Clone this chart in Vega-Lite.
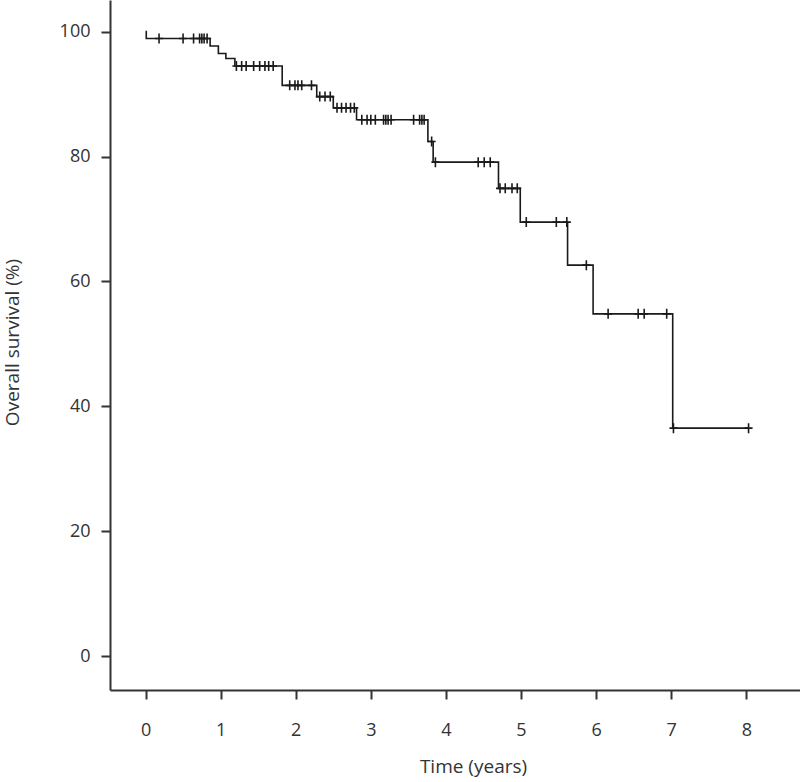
{
  "$schema": "https://vega.github.io/schema/vega-lite/v6.json",
  "width": 690,
  "height": 690,
  "autosize": "none",
  "padding": {"left": 110, "top": 0, "right": 0, "bottom": 92},
  "background": "white",
  "config": {"view": {"stroke": null}, "font": "Open Sans"},
  "datasets": {
    "steps": [
      {"time": 0, "survival": 100},
      {"time": 0.01, "survival": 98.9},
      {"time": 0.86, "survival": 97.7},
      {"time": 0.97, "survival": 96.5},
      {"time": 1.07, "survival": 95.7},
      {"time": 1.19, "survival": 94.5},
      {"time": 1.82, "survival": 91.4},
      {"time": 2.28, "survival": 89.6},
      {"time": 2.5, "survival": 87.8},
      {"time": 2.81, "survival": 85.9},
      {"time": 3.76, "survival": 82.4},
      {"time": 3.83, "survival": 79.1},
      {"time": 4.7, "survival": 74.9},
      {"time": 4.99, "survival": 69.5},
      {"time": 5.62, "survival": 62.6},
      {"time": 5.96, "survival": 54.8},
      {"time": 7.02, "survival": 36.5},
      {"time": 8.03, "survival": 36.5}
    ],
    "censored": [
      {"time": 0.18, "survival": 98.9},
      {"time": 0.5, "survival": 98.9},
      {"time": 0.64, "survival": 98.9},
      {"time": 0.72, "survival": 98.9},
      {"time": 0.75, "survival": 98.9},
      {"time": 0.78, "survival": 98.9},
      {"time": 0.82, "survival": 98.9},
      {"time": 1.21, "survival": 94.5},
      {"time": 1.28, "survival": 94.5},
      {"time": 1.34, "survival": 94.5},
      {"time": 1.44, "survival": 94.5},
      {"time": 1.52, "survival": 94.5},
      {"time": 1.59, "survival": 94.5},
      {"time": 1.64, "survival": 94.5},
      {"time": 1.7, "survival": 94.5},
      {"time": 1.92, "survival": 91.4},
      {"time": 1.99, "survival": 91.4},
      {"time": 2.03, "survival": 91.4},
      {"time": 2.08, "survival": 91.4},
      {"time": 2.21, "survival": 91.4},
      {"time": 2.32, "survival": 89.6},
      {"time": 2.39, "survival": 89.6},
      {"time": 2.46, "survival": 89.6},
      {"time": 2.55, "survival": 87.8},
      {"time": 2.61, "survival": 87.8},
      {"time": 2.67, "survival": 87.8},
      {"time": 2.73, "survival": 87.8},
      {"time": 2.78, "survival": 87.8},
      {"time": 2.88, "survival": 85.9},
      {"time": 2.95, "survival": 85.9},
      {"time": 3.0, "survival": 85.9},
      {"time": 3.06, "survival": 85.9},
      {"time": 3.17, "survival": 85.9},
      {"time": 3.2, "survival": 85.9},
      {"time": 3.23, "survival": 85.9},
      {"time": 3.27, "survival": 85.9},
      {"time": 3.57, "survival": 85.9},
      {"time": 3.65, "survival": 85.9},
      {"time": 3.68, "survival": 85.9},
      {"time": 3.71, "survival": 85.9},
      {"time": 3.81, "survival": 82.4},
      {"time": 3.86, "survival": 79.1},
      {"time": 4.43, "survival": 79.1},
      {"time": 4.51, "survival": 79.1},
      {"time": 4.59, "survival": 79.1},
      {"time": 4.72, "survival": 74.9},
      {"time": 4.79, "survival": 74.9},
      {"time": 4.88, "survival": 74.9},
      {"time": 4.95, "survival": 74.9},
      {"time": 5.07, "survival": 69.5},
      {"time": 5.47, "survival": 69.5},
      {"time": 5.61, "survival": 69.5},
      {"time": 5.87, "survival": 62.6},
      {"time": 6.16, "survival": 54.8},
      {"time": 6.56, "survival": 54.8},
      {"time": 6.64, "survival": 54.8},
      {"time": 6.94, "survival": 54.8},
      {"time": 7.03, "survival": 36.5},
      {"time": 8.03, "survival": 36.5}
    ]
  },
  "encoding": {
    "x": {
      "field": "time",
      "type": "quantitative",
      "scale": {"domain": [-0.473, 8.715], "nice": false, "zero": false},
      "axis": {
        "values": [0, 1, 2, 3, 4, 5, 6, 7, 8],
        "title": "Time (years)",
        "grid": false,
        "domainColor": "#333333",
        "domainWidth": 2,
        "tickColor": "#333333",
        "tickWidth": 2,
        "tickSize": 9,
        "labelFont": "Open Sans",
        "labelFontSize": 18,
        "labelColor": "#333333",
        "labelPadding": 22,
        "titleFont": "Open Sans",
        "titleFontSize": 19,
        "titleFontWeight": "normal",
        "titleColor": "#333333",
        "titleX": 363,
        "titleY": 76,
        "titleBaseline": "middle",
        "titleAnchor": "middle"
      }
    },
    "y": {
      "field": "survival",
      "type": "quantitative",
      "scale": {"domain": [-5.44, 105.07], "nice": false, "zero": false},
      "axis": {
        "values": [0, 20, 40, 60, 80, 100],
        "title": "Overall survival (%)",
        "grid": false,
        "domainColor": "#333333",
        "domainWidth": 2,
        "tickColor": "#333333",
        "tickWidth": 2,
        "tickSize": 9,
        "labelFont": "Open Sans",
        "labelFontSize": 18,
        "labelColor": "#333333",
        "labelPadding": 11,
        "titleFont": "Open Sans",
        "titleFontSize": 19,
        "titleFontWeight": "normal",
        "titleColor": "#333333",
        "titleX": -98,
        "titleY": 342,
        "titleAngle": -90,
        "titleBaseline": "middle",
        "titleAnchor": "middle"
      }
    }
  },
  "layer": [
    {
      "data": {"name": "steps"},
      "mark": {"type": "line", "interpolate": "step-after", "color": "#1a1a1a", "strokeWidth": 1.6}
    },
    {
      "data": {"name": "censored"},
      "mark": {
        "type": "point",
        "shape": "M0,-1V1M-0.8,0H0.8",
        "filled": false,
        "stroke": "#1a1a1a",
        "strokeWidth": 1.6,
        "size": 100,
        "opacity": 1
      }
    }
  ]
}
